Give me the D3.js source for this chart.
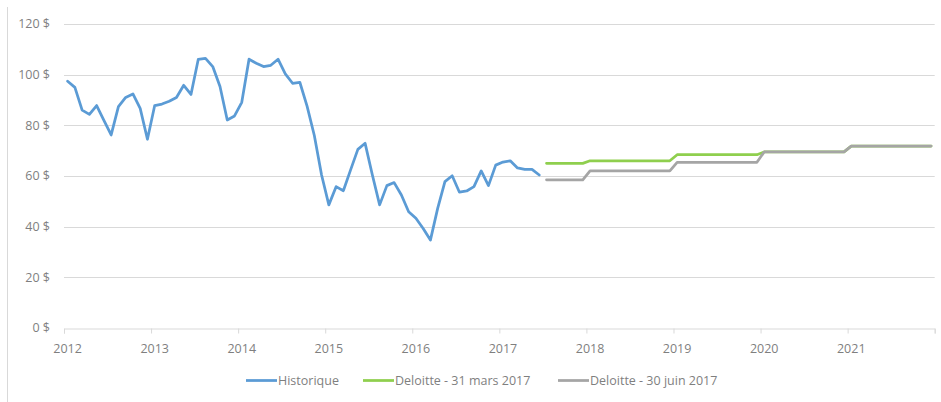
<!DOCTYPE html>
<html><head><meta charset="utf-8">
<script src="https://cdn.jsdelivr.net/npm/d3@7"></script>
<style>
body{margin:0;background:#fff;}
svg{display:block;font-family:"Open Sans",sans-serif;}
</style></head><body>
<svg id="chart" width="941" height="402"></svg>
<script>
// Monthly data, index 0 = Jan 2012
const years = ["2012","2013","2014","2015","2016","2017","2018","2019","2020","2021"];
const yTicks = [0,20,40,60,80,100,120];
const historique = [97.4,95.0,86.0,84.3,87.8,82.0,76.2,87.4,91.0,92.4,86.7,74.5,
  87.8,88.4,89.5,91.0,95.8,92.2,106.0,106.4,103.2,95.3,82.1,83.7,
  89.1,106.1,104.5,103.2,103.7,106.1,100.3,96.6,97.0,87.6,76.0,60.4,
  48.6,55.8,54.2,62.4,70.5,72.9,60.4,48.6,56.2,57.4,52.5,45.9,
  43.3,39.3,34.7,47.2,57.8,60.1,53.6,54.1,55.8,62.0,56.2,64.3,
  65.5,66.0,63.2,62.6,62.6,60.4];
const startForecast = 66; // July 2017
const deloitteMars = [65.0,65.0,65.0,65.0,65.0,65.0,
  66.0,66.0,66.0,66.0,66.0,66.0,66.0,66.0,66.0,66.0,66.0,66.0,
  68.4,68.4,68.4,68.4,68.4,68.4,68.4,68.4,68.4,68.4,68.4,68.4,
  69.5,69.5,69.5,69.5,69.5,69.5,69.5,69.5,69.5,69.5,69.5,69.5,
  71.8,71.8,71.8,71.8,71.8,71.8,71.8,71.8,71.8,71.8,71.8,71.8];
const deloitteJuin = [58.5,58.5,58.5,58.5,58.5,58.5,
  62.0,62.0,62.0,62.0,62.0,62.0,62.0,62.0,62.0,62.0,62.0,62.0,
  65.4,65.4,65.4,65.4,65.4,65.4,65.4,65.4,65.4,65.4,65.4,65.4,
  69.5,69.5,69.5,69.5,69.5,69.5,69.5,69.5,69.5,69.5,69.5,69.5,
  71.8,71.8,71.8,71.8,71.8,71.8,71.8,71.8,71.8,71.8,71.8,71.8];
const seriesNames = ["Historique","Deloitte - 31 mars 2017","Deloitte - 30 juin 2017"];
const colors = ["#5b9bd5","#8fcf4e","#a5a5a5"];

const svg = d3.select("#chart");
const x = d3.scaleLinear().domain([0,120]).range([64,934.7]);
const y = d3.scaleLinear().domain([0,120]).range([328,24]);
const FS = 12.5;

// container border line on left
svg.append("line").attr("x1",7.5).attr("x2",7.5).attr("y1",7).attr("y2",402)
  .attr("stroke","#d9d9d9").attr("stroke-width",1);

// gridlines
svg.append("g").selectAll("line").data(yTicks.filter(d=>d>0)).join("line")
  .attr("x1",64).attr("x2",934.7)
  .attr("y1",d=>Math.round(y(d))+0.5).attr("y2",d=>Math.round(y(d))+0.5)
  .attr("stroke","#d9d9d9").attr("stroke-width",1);

// y labels
svg.append("g").selectAll("text").data(yTicks).join("text")
  .attr("x",50).attr("y",d=>y(d)).attr("dy","0.35em")
  .attr("text-anchor","end").attr("font-size",FS).attr("fill","#7f7f7f")
  .text(d=>d+" $");

// x axis
const xAxis = d3.axisBottom(x)
  .tickValues(d3.range(0,121,12))
  .tickSize(5).tickFormat("");
const gx = svg.append("g").attr("transform","translate(0,328.5)").call(xAxis);
gx.select(".domain").attr("stroke","#d9d9d9");
gx.selectAll(".tick line").attr("stroke","#d9d9d9");
svg.append("g").selectAll("text").data(years).join("text")
  .attr("x",(d,i)=>x(i*12+0.5)).attr("y",353)
  .attr("text-anchor","middle").attr("font-size",FS).attr("fill","#7f7f7f")
  .text(d=>d);

const line = d3.line().x(d=>x(d[0]+0.5)).y(d=>y(d[1]));
const hist = historique.map((v,i)=>[i,v]);
const mars = deloitteMars.map((v,i)=>[i+startForecast,v]);
const juin = deloitteJuin.map((v,i)=>[i+startForecast,v]);

[[hist,0],[mars,1],[juin,2]].forEach(([data,k])=>{
  svg.append("path").datum(data).attr("d",line)
    .attr("fill","none").attr("stroke",colors[k]).attr("stroke-width",2.75)
    .attr("stroke-linejoin","round").attr("stroke-linecap","round");
});

// legend
const legX = [246,363,558];
const lg = svg.append("g");
seriesNames.forEach((n,k)=>{
  lg.append("line").attr("x1",legX[k]).attr("x2",legX[k]+31)
    .attr("y1",380.5).attr("y2",380.5).attr("stroke",colors[k]).attr("stroke-width",2.75);
  lg.append("text").attr("x",legX[k]+32).attr("y",380.5).attr("dy","0.35em")
    .attr("font-size",FS).attr("fill","#7f7f7f").text(n);
});
</script>
</body></html>
